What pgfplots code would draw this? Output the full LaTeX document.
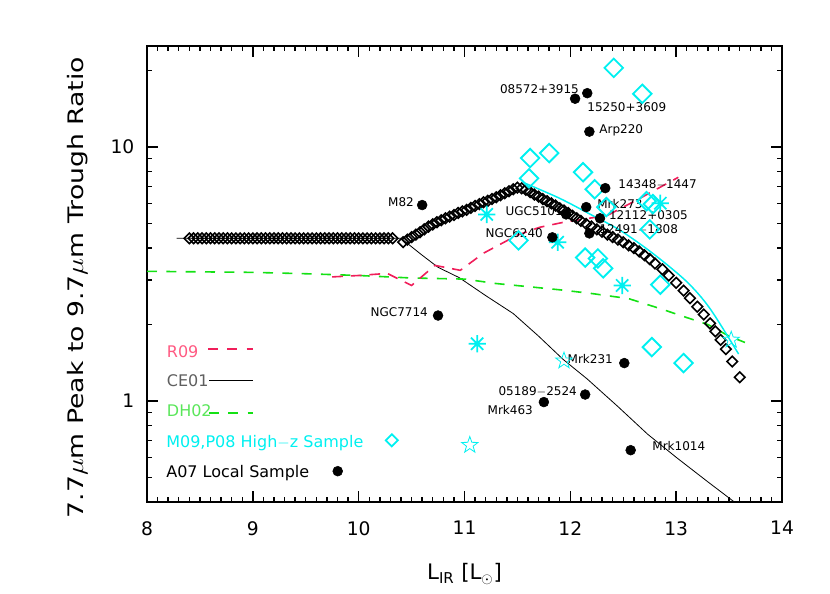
\documentclass[border=0pt]{standalone}
\usepackage{fontspec}
\setmainfont{DejaVu Sans}
\usepackage{graphicx}
\usepackage{pgfplots}
\pgfplotsset{compat=1.18}
\usetikzlibrary{plotmarks}

\definecolor{rcol}{RGB}{240,30,90}
\definecolor{gcol}{RGB}{20,225,20}
\definecolor{ccol}{RGB}{0,240,240}
\definecolor{rtxt}{RGB}{255,90,130}
\definecolor{ktxt}{RGB}{95,95,95}
\definecolor{gtxt}{RGB}{90,230,90}

% 8-armed asterisk
\pgfdeclareplotmark{ast8}{%
  \pgfpathmoveto{\pgfqpoint{-\pgfplotmarksize}{0pt}}%
  \pgfpathlineto{\pgfqpoint{\pgfplotmarksize}{0pt}}%
  \pgfpathmoveto{\pgfqpoint{0pt}{-\pgfplotmarksize}}%
  \pgfpathlineto{\pgfqpoint{0pt}{\pgfplotmarksize}}%
  \pgfpathmoveto{\pgfqpoint{-.7071\pgfplotmarksize}{-.7071\pgfplotmarksize}}%
  \pgfpathlineto{\pgfqpoint{.7071\pgfplotmarksize}{.7071\pgfplotmarksize}}%
  \pgfpathmoveto{\pgfqpoint{-.7071\pgfplotmarksize}{.7071\pgfplotmarksize}}%
  \pgfpathlineto{\pgfqpoint{.7071\pgfplotmarksize}{-.7071\pgfplotmarksize}}%
  \pgfusepathqstroke}
% open five-pointed star
\pgfdeclareplotmark{ostar}{%
  \pgfpathmoveto{\pgfqpointpolar{90}{\pgfplotmarksize}}%
  \pgfpathlineto{\pgfqpointpolar{126}{.4\pgfplotmarksize}}%
  \pgfpathlineto{\pgfqpointpolar{162}{\pgfplotmarksize}}%
  \pgfpathlineto{\pgfqpointpolar{198}{.4\pgfplotmarksize}}%
  \pgfpathlineto{\pgfqpointpolar{234}{\pgfplotmarksize}}%
  \pgfpathlineto{\pgfqpointpolar{270}{.4\pgfplotmarksize}}%
  \pgfpathlineto{\pgfqpointpolar{306}{\pgfplotmarksize}}%
  \pgfpathlineto{\pgfqpointpolar{342}{.4\pgfplotmarksize}}%
  \pgfpathlineto{\pgfqpointpolar{18}{\pgfplotmarksize}}%
  \pgfpathlineto{\pgfqpointpolar{54}{.4\pgfplotmarksize}}%
  \pgfpathclose\pgfusepathqstroke}

\begin{document}
\begin{tikzpicture}
\begin{axis}[
  at={(0,0)}, anchor=south west,
  width=476.25pt, height=342pt, scale only axis,
  xmin=8, xmax=14, ymin=0.4, ymax=25, ymode=log,
  xtick={8,9,10,11,12,13,14}, minor x tick num=9,
  ytick={1,10}, yticklabels={1,10},
  minor ytick={0.4,0.5,0.6,0.7,0.8,0.9,2,3,4,5,6,7,8,9,20},
  tick align=inside,
  major tick length=8pt, minor tick length=4pt,
  axis line style={line width=1.4pt},
  every tick/.style={black, line width=1.1pt},
  ticklabel style={font=\fontsize{14}{16}\selectfont},
  /pgf/number format/assume math mode=true,
  xticklabel style={yshift=-11pt},
  yticklabel style={xshift=-6pt},
  xlabel={L\textsubscript{IR} [L$_\odot$]},
  ylabel={\scalebox{1.25}[1]{7.7$\mu$m Peak to 9.7$\mu$m Trough Ratio}},
  label style={font=\fontsize{16}{18}\selectfont},
  xlabel style={at={(axis description cs:0.5,-0.171)}, anchor=base},
  ylabel style={at={(axis description cs:-0.110,0.47)}, anchor=center},
]

% CE01
\addplot[black, line width=0.6pt] coordinates {
  (8.28,4.37) (10.40,4.37) (10.60,3.75) (10.75,3.36) (10.95,3.06) (11.20,2.60)
  (11.46,2.21) (11.70,1.80) (11.93,1.46) (12.16,1.22) (12.45,0.95) (12.73,0.74)
  (13.00,0.60) (13.30,0.48) (13.55,0.40)};
% DH02
\addplot[gcol, line width=1.2pt, dash pattern=on 7.5pt off 7pt] coordinates {
  (8.0,3.24) (9.0,3.21) (9.5,3.17) (10.0,3.12) (10.5,3.05) (11.0,3.02)
  (11.3,2.90) (11.6,2.82) (11.9,2.74) (12.2,2.65) (12.55,2.53) (12.85,2.31)
  (13.1,2.13) (13.3,2.00) (13.5,1.80) (13.65,1.70)};
% R09
\addplot[rcol, line width=1.2pt, dash pattern=on 8pt off 6pt] coordinates {
  (9.75,3.08) (10.0,3.12) (10.27,3.18) (10.50,2.85) (10.72,3.42) (10.96,3.27)
  (11.18,3.82) (11.50,4.50) (11.71,4.83) (11.93,5.05) (12.35,5.38) (12.66,6.29)
  (13.02,7.60)};
% high-z model curve
\addplot[ccol, line width=1.1pt, smooth] coordinates {
  (11.57,7.21) (11.90,6.28) (12.19,5.43) (12.47,4.70) (12.78,3.81)
  (13.10,2.95) (13.32,2.31) (13.59,1.53)};

% template track (open diamonds)
\addplot[black, only marks, mark=square, mark size=2.8pt,
  mark options={rotate=45, line width=1.2pt, fill=white}] coordinates {
  (8.40,4.37) (8.44,4.37) (8.48,4.37) (8.52,4.37) (8.56,4.37) (8.60,4.37)
  (8.64,4.37) (8.68,4.37) (8.72,4.37) (8.76,4.37) (8.80,4.37) (8.84,4.37)
  (8.88,4.37) (8.92,4.37) (8.96,4.37) (9.00,4.37) (9.04,4.37) (9.08,4.37)
  (9.12,4.37) (9.16,4.37) (9.20,4.37) (9.24,4.37) (9.28,4.37) (9.32,4.37)
  (9.36,4.37) (9.40,4.37) (9.44,4.37) (9.48,4.37) (9.52,4.37) (9.56,4.37)
  (9.60,4.37) (9.64,4.37) (9.68,4.37) (9.72,4.37) (9.76,4.37) (9.80,4.37)
  (9.84,4.37) (9.88,4.37) (9.92,4.37) (9.96,4.37) (10.00,4.37) (10.04,4.37)
  (10.08,4.37) (10.12,4.37) (10.16,4.37) (10.20,4.37) (10.24,4.37) (10.28,4.37)
  (10.32,4.37)
  (10.42,4.22) (10.46,4.32) (10.50,4.42) (10.54,4.52) (10.58,4.62) (10.62,4.74)
  (10.66,4.86) (10.70,4.96) (10.74,5.06) (10.78,5.15) (10.82,5.24) (10.86,5.32)
  (10.90,5.40) (10.94,5.50) (10.98,5.58) (11.02,5.66) (11.06,5.76) (11.10,5.86)
  (11.14,5.96) (11.18,6.06) (11.22,6.14) (11.26,6.24) (11.30,6.34) (11.34,6.46)
  (11.38,6.58) (11.42,6.70) (11.46,6.82) (11.50,6.92) (11.54,6.88) (11.58,6.78)
  (11.62,6.64) (11.66,6.50) (11.70,6.38) (11.74,6.24) (11.78,6.12) (11.82,6.00)
  (11.86,5.88) (11.90,5.74) (11.94,5.62) (11.98,5.50) (12.02,5.36) (12.06,5.24)
  (12.10,5.12) (12.15,4.98) (12.20,4.86) (12.25,4.74) (12.30,4.64) (12.35,4.52)
  (12.40,4.42) (12.45,4.32) (12.50,4.22) (12.55,4.10) (12.60,4.00) (12.65,3.88)
  (12.70,3.75) (12.75,3.62) (12.80,3.48) (12.87,3.30) (12.93,3.12) (13.00,2.92)
  (13.07,2.72) (13.13,2.54) (13.20,2.35) (13.26,2.19) (13.32,2.02) (13.37,1.88)
  (13.42,1.74) (13.47,1.60) (13.53,1.43) (13.60,1.24)};

% M09,P08 high-z sample
\addplot[ccol, only marks, mark=square, mark size=4.9pt,
  mark options={rotate=45, line width=1.4pt}] coordinates {
  (12.41,20.5) (12.68,16.2) (11.62,9.05) (11.80,9.47) (11.61,7.53) (12.12,7.96)
  (12.23,6.82) (12.34,5.80) (12.72,6.12) (12.78,5.96) (12.75,4.74) (11.51,4.29)
  (12.14,3.67) (12.26,3.64) (12.31,3.33) (12.85,2.87) (12.77,1.63) (13.07,1.41)};
\addplot[ccol, only marks, mark=ast8, mark size=6.5pt,
  mark options={line width=1.3pt}] coordinates {
  (11.21,5.43) (11.88,4.22) (12.85,6.01) (12.49,2.85) (11.12,1.68)};
\addplot[ccol, only marks, mark=ostar, mark size=6.5pt,
  mark options={line width=0.6pt}] coordinates {
  (11.94,1.44) (11.05,0.67) (13.52,1.74)};

% A07 labels
\begin{scope}[font=\fontsize{9}{10}\selectfont, inner sep=0pt]
\node[anchor=base east] at (12.083,16.2) {08572+3915};
\node[anchor=base west] at (12.159,13.8) {15250+3609};
\node[anchor=base west] at (12.272,11.3) {Arp220};
\node[anchor=base west] at (12.452,6.86) {14348$-$1447};
\node[anchor=base west] at (12.253,5.71) {Mrk273};
\node[anchor=base east] at (13.113,5.18) {12112+0305};
\node[anchor=base east] at (13.019,4.55) {12491$-$1808};
\node[anchor=base east] at (11.93,5.37) {UGC5101};
\node[anchor=base east] at (11.743,4.40) {NGC6240};
\node[anchor=base east] at (10.524,5.82) {M82};
\node[anchor=base east] at (10.656,2.16) {NGC7714};
\node[anchor=base east] at (12.404,1.40) {Mrk231};
\node[anchor=base east] at (12.064,1.05) {05189$-$2524};
\node[anchor=base east] at (11.648,0.885) {Mrk463};
\node[anchor=base west] at (12.773,0.638) {Mrk1014};
\end{scope}

% A07 local sample
\addplot[black, only marks, mark=*, mark size=3.7pt] coordinates {
  (12.045,15.5) (12.16,16.3) (12.18,11.5) (12.33,6.89) (12.15,5.80) (11.96,5.43)
  (12.28,5.24) (12.18,4.57) (11.83,4.41) (10.60,5.91) (10.75,2.17) (12.51,1.41)
  (12.14,1.06) (11.75,0.99) (12.57,0.64)};

% legend
\addplot[rcol, line width=1.2pt, dash pattern=on 7.5pt off 7pt, forget plot]
  coordinates {(8.577,1.606) (9.002,1.606)};
\addplot[black, line width=0.6pt, forget plot]
  coordinates {(8.586,1.20) (9.002,1.20)};
\addplot[gcol, line width=1.2pt, dash pattern=on 7.5pt off 7pt, forget plot]
  coordinates {(8.586,0.899) (9.002,0.899)};
\addplot[ccol, only marks, mark=square, mark size=3.2pt,
  mark options={rotate=45, line width=1.3pt}, forget plot]
  coordinates {(10.313,0.700)};
\addplot[black, only marks, mark=*, mark size=3.7pt, forget plot]
  coordinates {(9.802,0.529)};
\begin{scope}[font=\fontsize{12}{14}\selectfont, inner sep=0pt]
\node[anchor=base west, text=rtxt] at (8.186,1.486) {R09};
\node[anchor=base west, text=ktxt] at (8.186,1.136) {CE01};
\node[anchor=base west, text=gtxt] at (8.186,0.865) {DH02};
\node[anchor=base west, text=ccol] at (8.18,0.658) {M09,P08 High$-$z Sample};
\node[anchor=base west, text=black] at (8.18,0.501) {A07 Local Sample};
\end{scope}
\end{axis}
\path[use as bounding box] (-110.25pt,-68.25pt) rectangle (512.25pt,376.5pt);
\end{tikzpicture}
\end{document}
